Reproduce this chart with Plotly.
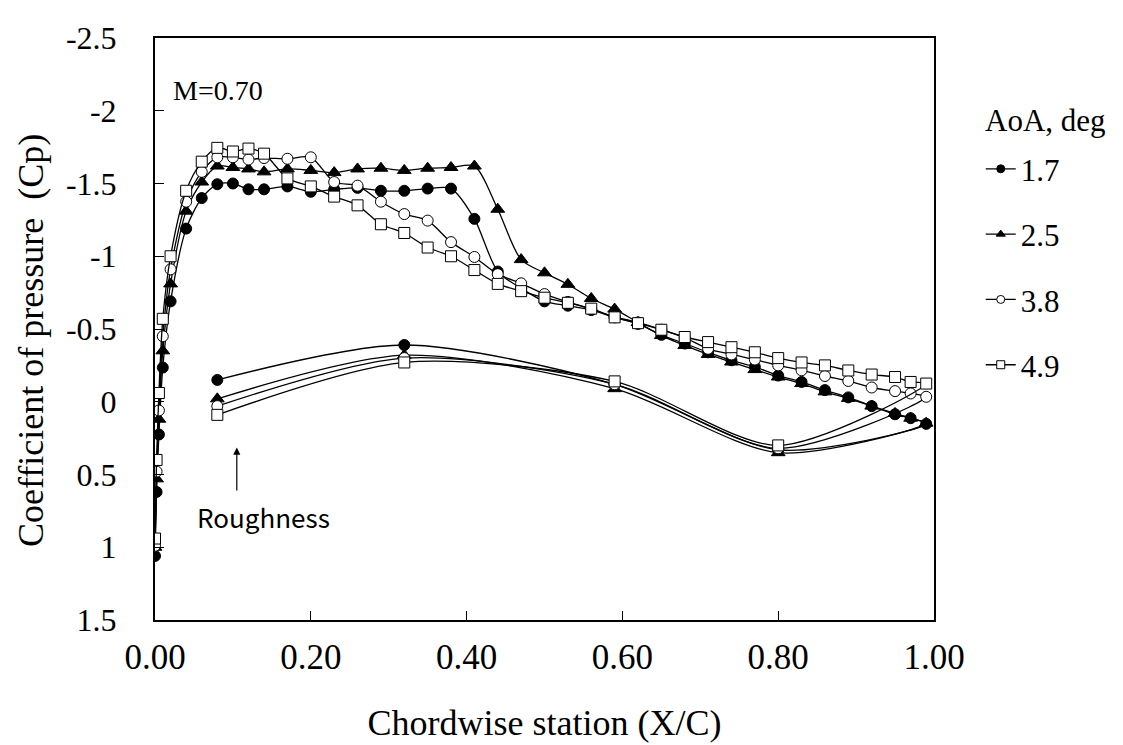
import plotly.graph_objects as go

# chordwise stations, upper surface (leading edge -> trailing edge)
x_upper = [0.0, 0.002, 0.005, 0.01, 0.02, 0.04, 0.06, 0.08, 0.10, 0.12, 0.14, 0.17, 0.20,
           0.23, 0.26, 0.29, 0.32, 0.35, 0.38, 0.41, 0.44, 0.47, 0.50, 0.53, 0.56, 0.59,
           0.62, 0.65, 0.68, 0.71, 0.74, 0.77, 0.80, 0.83, 0.86, 0.89, 0.92, 0.95, 0.97, 0.99]
# lower surface taps
x_lower = [0.08, 0.32, 0.59, 0.80]

aoa_labels = ["1.7", "2.5", "3.8", "4.9"]

cp_upper_17 = [1.06, 0.62, 0.225, -0.235, -0.69, -1.19, -1.40, -1.495, -1.50, -1.46, -1.46, -1.48, -1.443,
               -1.46, -1.47, -1.45, -1.45, -1.465, -1.465, -1.257, -0.895, -0.78, -0.69, -0.66, -0.63, -0.58,
               -0.535, -0.46, -0.40, -0.34, -0.285, -0.24, -0.18, -0.136, -0.08, -0.03, 0.03, 0.086, 0.113, 0.152]
cp_upper_25 = [1.0, 0.53, 0.12, -0.35, -0.81, -1.31, -1.51, -1.62, -1.61, -1.60, -1.58, -1.60, -1.59,
               -1.575, -1.60, -1.605, -1.59, -1.605, -1.61, -1.62, -1.323, -0.977, -0.886, -0.807, -0.71, -0.637,
               -0.545, -0.455, -0.387, -0.325, -0.273, -0.221, -0.17, -0.125, -0.068, -0.023, 0.03, 0.08, 0.113, 0.147]
cp_upper_38 = [0.99, 0.48, 0.06, -0.45, -0.91, -1.375, -1.58, -1.68, -1.68, -1.665, -1.675, -1.67, -1.68,
               -1.51, -1.485, -1.375, -1.29, -1.245, -1.097, -0.995, -0.877, -0.814, -0.74, -0.686, -0.637, -0.584,
               -0.545, -0.495, -0.44, -0.364, -0.325, -0.29, -0.25, -0.216, -0.177, -0.143, -0.098, -0.073, -0.057, -0.034]
cp_upper_49 = [0.94, 0.40, -0.06, -0.57, -1.00, -1.45, -1.65, -1.745, -1.72, -1.74, -1.705, -1.535, -1.48,
               -1.41, -1.35, -1.22, -1.16, -1.06, -1.0, -0.905, -0.81, -0.76, -0.715, -0.68, -0.64, -0.58,
               -0.54, -0.495, -0.445, -0.41, -0.375, -0.34, -0.30, -0.27, -0.25, -0.215, -0.187, -0.17, -0.136, -0.125]

cp_lower_17 = [-0.15, -0.39, -0.12, 0.33]
cp_lower_25 = [-0.02, -0.32, -0.09, 0.35]
cp_lower_38 = [0.03, -0.30, -0.12, 0.32]
cp_lower_49 = [0.09, -0.27, -0.14, 0.30]

y_tickvals = [-2.5, -2, -1.5, -1, -0.5, 0, 0.5, 1, 1.5]
y_ticktext = ["-2.5", "-2", "-1.5", "-1", "-0.5", "0", "0.5", "1", "1.5"]

SERIF = "Liberation Serif, Times New Roman, serif"
SANS_JP = "Noto Sans CJK JP, Noto Sans, sans-serif"

markers = [
    dict(symbol="circle", color="black"),
    dict(symbol="triangle-up", color="black"),
    dict(symbol="circle", color="white"),
    dict(symbol="square", color="white"),
]
sizes = [11, 12, 11, 11]
lowers = [cp_lower_17, cp_lower_25, cp_lower_38, cp_lower_49]
uppers = [cp_upper_17, cp_upper_25, cp_upper_38, cp_upper_49]

fig = go.Figure()
for name, lower, upper, mk, sz in zip(aoa_labels, lowers, uppers, markers, sizes):
    # one path per angle: lower taps, then upper surface from trailing edge back to leading edge
    xs = x_lower + x_upper[::-1]
    ys = lower + upper[::-1]
    fig.add_trace(go.Scatter(
        x=xs, y=ys, name=name, showlegend=False,
        mode="lines+markers",
        line=dict(color="black", width=1.3, shape="spline", smoothing=0.8),
        marker=dict(size=sz, line=dict(color="black", width=1), **mk),
    ))
    # legend entry with the smaller legend symbol
    fig.add_trace(go.Scatter(
        x=[None], y=[None], name=name, legendgroup=name,
        mode="lines+markers",
        line=dict(color="black", width=1.3),
        marker=dict(size=8, line=dict(color="black", width=1), **mk),
    ))

fig.add_annotation(x=0.02, y=-2.14, xref="x", yref="y", text="M=0.70", showarrow=False,
                   xanchor="left", yanchor="middle", font=dict(family=SERIF, size=28, color="black"))
fig.add_annotation(x=0.105, y=0.315, ax=0.105, ay=0.62, xref="x", yref="y", axref="x", ayref="y",
                   text="", showarrow=True, arrowhead=2, arrowsize=1.2, arrowwidth=1.2, arrowcolor="black")
fig.add_annotation(x=0.139, y=0.79, xref="x", yref="y", text="Roughness", showarrow=False,
                   font=dict(family=SANS_JP, size=26, color="black"))
fig.add_annotation(x=1.063, y=0.859, xref="paper", yref="paper", text="AoA, deg", showarrow=False,
                   xanchor="left", yanchor="middle", font=dict(family=SERIF, size=31, color="black"))
fig.add_annotation(x=-0.16, y=0.48, xref="paper", yref="paper",
                   text="Coefficient of pressure\u00a0\u00a0(Cp)", showarrow=False, textangle=-90,
                   xanchor="center", yanchor="middle", font=dict(family=SERIF, size=36, color="black"))

fig.update_layout(
    width=1123, height=745,
    margin=dict(l=147, r=197, t=25, b=133),
    paper_bgcolor="white", plot_bgcolor="white",
    font=dict(family=SERIF, size=30, color="black"),
    showlegend=True,
    legend=dict(
        x=1.06, xanchor="left", y=0.821, yanchor="top",
        traceorder="grouped", tracegroupgap=22,
        font=dict(family=SERIF, size=31),
        bgcolor="rgba(0,0,0,0)",
    ),
    xaxis=dict(
        range=[0, 1], dtick=0.2, tickformat=".2f",
        ticks="inside", ticklen=9, tickwidth=1, tickcolor="black",
        showline=True, linecolor="black", linewidth=2, mirror=True,
        showgrid=False, zeroline=False, ticklabelstandoff=5,
        title=dict(text="Chordwise station (X/C)", standoff=34, font=dict(family=SERIF, size=36)),
        tickfont=dict(family=SERIF, size=35),
    ),
    yaxis=dict(
        range=[1.5, -2.5], tickvals=y_tickvals, ticktext=y_ticktext,
        ticks="inside", ticklen=9, tickwidth=1, tickcolor="black",
        showline=True, linecolor="black", linewidth=2, mirror=True,
        showgrid=False, zeroline=False, ticklabelstandoff=30,
        tickfont=dict(family=SERIF, size=32),
    ),
)

fig.write_html("out.html")
